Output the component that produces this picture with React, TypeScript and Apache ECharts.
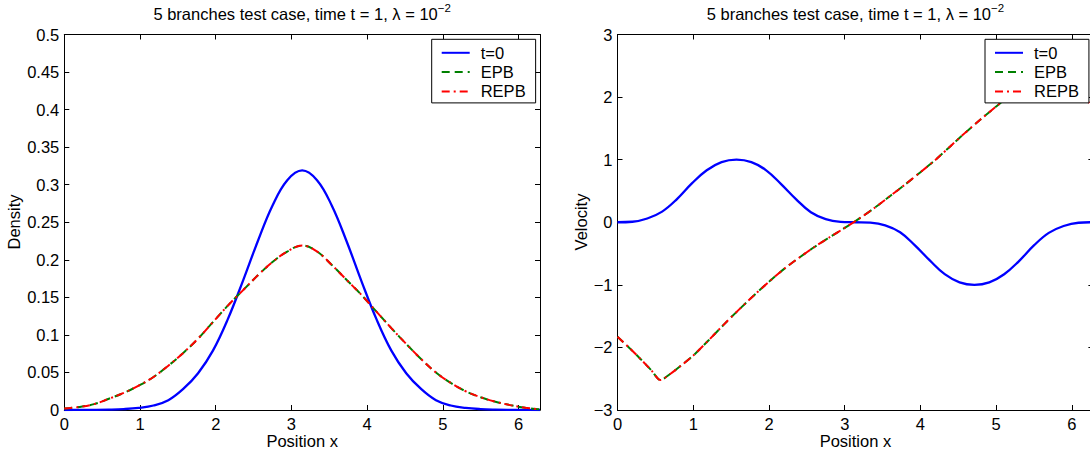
import React, { useEffect, useRef } from 'react';
import * as echarts from 'echarts';

// Uniform position grid (step pi/16) used by the density curves and the initial velocity
const xGrid = [0, 0.196, 0.393, 0.589, 0.785, 0.982, 1.178, 1.374, 1.571, 1.767, 1.963, 2.16, 2.356, 2.553, 2.749, 2.945, 3.142, 3.338, 3.534, 3.731, 3.927, 4.123, 4.32, 4.516, 4.712, 4.909, 5.105, 5.301, 5.498, 5.694, 5.89, 6.087, 6.283];

// Density
const rhoT0 = [0, 0.0001, 0.0002, 0.0005, 0.0012, 0.0028, 0.006, 0.013, 0.028, 0.049, 0.079, 0.121, 0.171, 0.224, 0.272, 0.306, 0.319, 0.306, 0.272, 0.224, 0.171, 0.121, 0.079, 0.049, 0.028, 0.013, 0.006, 0.0028, 0.0012, 0.0005, 0.0002, 0.0001, 0];
const rhoEPB = [0.002, 0.004, 0.0078, 0.015, 0.0228, 0.0325, 0.044, 0.059, 0.076, 0.095, 0.117, 0.139, 0.159, 0.179, 0.197, 0.211, 0.219, 0.211, 0.193, 0.173, 0.153, 0.131, 0.109, 0.088, 0.068, 0.05, 0.036, 0.025, 0.017, 0.011, 0.0065, 0.003, 0.001];
const rhoREPB = [0.002, 0.004, 0.0078, 0.015, 0.0228, 0.0325, 0.044, 0.059, 0.076, 0.095, 0.117, 0.139, 0.159, 0.179, 0.197, 0.211, 0.219, 0.211, 0.193, 0.173, 0.153, 0.131, 0.109, 0.088, 0.068, 0.05, 0.036, 0.025, 0.017, 0.011, 0.0065, 0.003, 0.001];

// Velocity
const uT0 = [0, 0.008, 0.06, 0.17, 0.37, 0.62, 0.83, 0.96, 1.0, 0.96, 0.83, 0.61, 0.37, 0.16, 0.05, 0.007, 0, -0.007, -0.05, -0.16, -0.37, -0.61, -0.83, -0.96, -1.0, -0.96, -0.83, -0.62, -0.37, -0.17, -0.06, -0.008, 0];
const xU = [0, 0.15, 0.3, 0.45, 0.566, 0.7, 0.85, 1.0, 1.2, 1.4, 1.6, 1.8, 2.0, 2.2, 2.4, 2.6, 2.8, 3.0, 3.2, 3.4, 3.6, 3.8, 4.0, 4.2, 4.4, 4.6, 4.8, 5.0, 5.2, 5.4, 5.6, 5.717, 5.85, 6.0, 6.15, 6.283];
const uEPB = [-1.83, -2.0, -2.18, -2.37, -2.52, -2.42, -2.28, -2.13, -1.89, -1.64, -1.4, -1.17, -0.95, -0.745, -0.565, -0.395, -0.24, -0.09, 0.065, 0.235, 0.42, 0.605, 0.8, 1.0, 1.22, 1.44, 1.65, 1.85, 2.05, 2.25, 2.44, 2.53, 2.38, 2.19, 2.0, 1.84];
const uREPB = [-1.83, -2.0, -2.18, -2.37, -2.52, -2.42, -2.28, -2.13, -1.89, -1.64, -1.4, -1.17, -0.95, -0.745, -0.565, -0.395, -0.24, -0.09, 0.065, 0.235, 0.42, 0.605, 0.8, 1.0, 1.22, 1.44, 1.65, 1.85, 2.05, 2.25, 2.44, 2.53, 2.38, 2.19, 2.0, 1.84];

const legendNames = ['t=0', 'EPB', 'REPB'];
const titleMain = '5 branches test case, time t = 1, λ = 10';
const titleSup = '−2';
const xName = 'Position x';
const yNames = ['Density', 'Velocity'];

const X_MAX = 6.2832;
const FONT = 'Liberation Sans, Arial, Helvetica, sans-serif';
const FS = 16.5;

const BLUE = '#0000ff';
const GREEN = '#008000';
const RED = '#ff0000';

const G0 = { left: 64.3, top: 34.5, width: 475.7, height: 375.5 };
const G1 = { left: 617.5, top: 34.5, width: 475.9, height: 375.5 };

function pairs(xs: number[], ys: number[]) {
  return xs.map((x, i) => [x, ys[i]]);
}

const axisLine = { show: true, onZero: false, lineStyle: { color: '#000', width: 1 } };
const axisTick = { show: true, inside: true, length: 5, lineStyle: { color: '#000', width: 1 } };

function xAxes(gi: number) {
  return [
    {
      gridIndex: gi, type: 'value', position: 'bottom', min: 0, max: X_MAX, interval: 1,
      axisLine, axisTick, splitLine: { show: false },
      axisLabel: {
        color: '#000', fontSize: FS, fontFamily: FONT, margin: 5,
        formatter: (v: number) => (Math.abs(v - Math.round(v)) < 1e-6 ? String(Math.round(v)) : ''),
      },
    },
    {
      gridIndex: gi, type: 'value', position: 'top', min: 0, max: X_MAX, interval: 1,
      axisLine, axisTick, splitLine: { show: false }, axisLabel: { show: false },
    },
  ];
}

function yAxes(gi: number, min: number, max: number, interval: number, fmt: (v: number) => string) {
  return [
    {
      gridIndex: gi, type: 'value', position: 'left', min, max, interval,
      axisLine, axisTick, splitLine: { show: false },
      axisLabel: { color: '#000', fontSize: FS, fontFamily: FONT, margin: 5, formatter: fmt },
    },
    {
      gridIndex: gi, type: 'value', position: 'right', min, max, interval,
      axisLine, axisTick, splitLine: { show: false }, axisLabel: { show: false },
    },
  ];
}

function line(name: string, xs: number[], ys: number[], xi: number, yi: number, color: string, width: number, dash: any, z: number, smooth: number) {
  return {
    type: 'line', name, xAxisIndex: xi, yAxisIndex: yi,
    data: pairs(xs, ys), symbol: 'none', smooth,
    lineStyle: { color, width, type: dash },
    itemStyle: { color },
    emphasis: { disabled: true },
    z,
  };
}

function legend(left: number) {
  return {
    data: legendNames, left, top: 39.3, orient: 'vertical',
    itemWidth: 28, itemHeight: 14, itemGap: 2.3,
    padding: [5, 10, 3, 9],
    borderColor: '#000', borderWidth: 1, borderRadius: 0, backgroundColor: '#fff',
    selectedMode: false,
    itemStyle: { opacity: 0 },
    textStyle: { color: '#000', fontSize: FS, fontFamily: FONT, padding: [0, 0, 0, 6] },
    z: 10,
  };
}

function titleText(cx: number) {
  return {
    type: 'text', x: cx, y: 12, z: 20,
    style: {
      text: `{m|${titleMain}}{s|${titleSup}}`,
      align: 'center', verticalAlign: 'middle',
      rich: {
        m: { fontSize: FS, fontFamily: FONT, fill: '#000', lineHeight: 20, verticalAlign: 'bottom' },
        s: { fontSize: 11.5, fontFamily: FONT, fill: '#000', lineHeight: 11, verticalAlign: 'top' },
      },
    },
  };
}

export default function App() {
  const ref = useRef<HTMLDivElement>(null);
  useEffect(() => {
    if (!ref.current) return;
    const chart = echarts.init(ref.current, null, { renderer: 'svg' });
    const c0 = G0.left + G0.width / 2;
    const c1 = G1.left + G1.width / 2;
    chart.setOption({
      animation: false,
      backgroundColor: '#fff',
      grid: [
        { ...G0, containLabel: false },
        { ...G1, containLabel: false },
      ],
      xAxis: [...xAxes(0), ...xAxes(1)],
      yAxis: [
        ...yAxes(0, 0, 0.5, 0.05, (v: number) => String(Math.round(v * 100) / 100)),
        ...yAxes(1, -3, 3, 1, (v: number) => String(Math.round(v)).replace('-', '−')),
      ],
      legend: [legend(431.7), legend(985)],
      series: [
        line(legendNames[0], xGrid, rhoT0, 0, 0, BLUE, 2.3, 'solid', 2, 0.4),
        line(legendNames[1], xGrid, rhoEPB, 0, 0, GREEN, 2, [8, 5], 3, 0.4),
        line(legendNames[2], xGrid, rhoREPB, 0, 0, RED, 2, [8, 4, 2, 4], 4, 0.4),
        line(legendNames[0], xGrid, uT0, 2, 2, BLUE, 2.3, 'solid', 2, 0.4),
        line(legendNames[1], xU, uEPB, 2, 2, GREEN, 2, [8, 5], 3, 0.3),
        line(legendNames[2], xU, uREPB, 2, 2, RED, 2, [8, 4, 2, 4], 4, 0.3),
      ],
      graphic: [
        titleText(c0),
        titleText(c1),
        { type: 'text', x: c0, y: 441, style: { text: xName, font: `${FS}px ${FONT}`, fill: '#000', align: 'center', verticalAlign: 'middle' } },
        { type: 'text', x: c1, y: 441, style: { text: xName, font: `${FS}px ${FONT}`, fill: '#000', align: 'center', verticalAlign: 'middle' } },
        { type: 'text', x: 14, y: 222, rotation: Math.PI / 2, style: { text: yNames[0], font: `${FS}px ${FONT}`, fill: '#000', align: 'center', verticalAlign: 'middle' } },
        { type: 'text', x: 581, y: 222, rotation: Math.PI / 2, style: { text: yNames[1], font: `${FS}px ${FONT}`, fill: '#000', align: 'center', verticalAlign: 'middle' } },
      ],
    });
    return () => chart.dispose();
  }, []);
  return (
    <div style={{ position: 'fixed', left: 0, top: 0, width: 1090, height: 455, overflow: 'hidden', background: '#fff' }}>
      <div ref={ref} style={{ width: 1100, height: 455 }} />
    </div>
  );
}
